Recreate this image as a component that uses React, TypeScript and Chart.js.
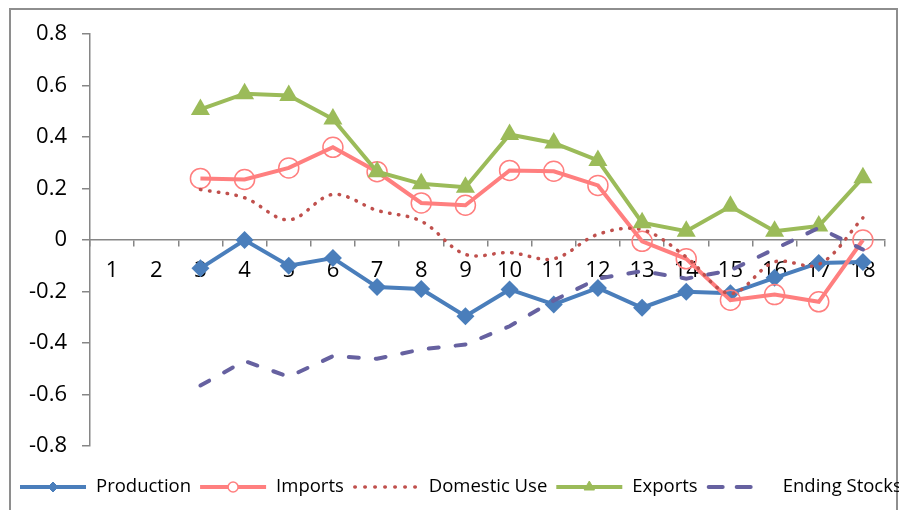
import React, { useEffect, useRef } from "react";
import { Chart, registerables } from "chart.js";
import { drawPoint } from "chart.js/helpers";

Chart.register(...registerables);

// Year-over-year change, categories 1..18
const categories = ["1", "2", "3", "4", "5", "6", "7", "8", "9", "10", "11", "12", "13", "14", "15", "16", "17", "18"];

const production = [null, null, -0.11, 0.0, -0.1, -0.07, -0.183, -0.19, -0.296, -0.192, -0.25, -0.186, -0.263, -0.201, -0.207, -0.147, -0.089, -0.085];
const imports = [null, null, 0.239, 0.235, 0.28, 0.36, 0.265, 0.144, 0.135, 0.27, 0.267, 0.212, -0.005, -0.073, -0.234, -0.212, -0.24, 0.0];
const domesticUse = [null, null, 0.196, 0.164, 0.078, 0.177, 0.115, 0.073, -0.056, -0.049, -0.073, 0.022, 0.04, -0.066, -0.208, -0.085, -0.095, 0.086];
const exportsSeries = [null, null, 0.507, 0.568, 0.561, 0.47, 0.265, 0.218, 0.205, 0.41, 0.377, 0.309, 0.067, 0.034, 0.131, 0.034, 0.054, 0.242];
const endingStocks = [null, null, -0.565, -0.47, -0.531, -0.451, -0.461, -0.425, -0.406, -0.335, -0.235, -0.15, -0.121, -0.15, -0.118, -0.035, 0.047, -0.037];

const yTicks = { min: -0.8, max: 0.8, step: 0.2 };

const FONT = '"Open Sans", "DejaVu Sans", sans-serif';
const AXIS_GRAY = "#868686";
const TICK_SIZE = 22;
const LEGEND_SIZE = 18.5;

type LegendStyle = {
  dash: number[];
  cap: CanvasLineCap;
  width: number;
  marker: string | false;
  markerRadius: number;
  markerFill: string;
};

const legendStyles: LegendStyle[] = [
  { dash: [], cap: "butt", width: 4, marker: "rectRot", markerRadius: 5, markerFill: "#4A7EBB" },
  { dash: [], cap: "butt", width: 4, marker: "circle", markerRadius: 5, markerFill: "#FFFFFF" },
  { dash: [0.5, 9.5], cap: "round", width: 3.5, marker: false, markerRadius: 0, markerFill: "" },
  { dash: [], cap: "butt", width: 4, marker: "triangle", markerRadius: 6, markerFill: "#9BBB59" },
  { dash: [14, 14, 14, 60], cap: "round", width: 4, marker: false, markerRadius: 0, markerFill: "" },
];

// Outer frame around the chart object
const framePlugin = {
  id: "frame",
  beforeDraw(chart: any) {
    const ctx = chart.ctx;
    ctx.save();
    ctx.fillStyle = "#ffffff";
    ctx.fillRect(0, 0, chart.width, chart.height);
    ctx.strokeStyle = "#8e8e8e";
    ctx.lineWidth = 2;
    ctx.strokeRect(10, 9, chart.width - 12, chart.height + 20);
    ctx.restore();
  },
};

// Legend row beneath the plot: line sample with marker, then label
const bottomLegendPlugin = {
  id: "bottomLegend",
  afterDraw(chart: any) {
    const ctx = chart.ctx;
    const sample = 66;
    const gapAfterSample = 10;
    const gapAfterText = 9;
    const y = 487;
    ctx.save();
    ctx.font = `${LEGEND_SIZE}px ${FONT}`;
    const datasets = chart.data.datasets;
    const widths = datasets.map((d: any) => ctx.measureText(d.label).width);
    const total = widths.reduce((a: number, w: number) => a + w + sample + gapAfterSample, 0) + gapAfterText * (datasets.length - 1);
    let x = Math.max(20, (chart.width - total) / 2);
    datasets.forEach((d: any, i: number) => {
      const st = legendStyles[i];
      ctx.save();
      ctx.strokeStyle = d.borderColor;
      ctx.lineWidth = st.width;
      ctx.lineCap = st.cap;
      ctx.setLineDash(st.dash);
      ctx.beginPath();
      ctx.moveTo(x + (st.cap === "round" ? 2 : 0), y);
      ctx.lineTo(x + sample, y);
      ctx.stroke();
      ctx.restore();
      if (st.marker) {
        ctx.save();
        ctx.fillStyle = st.markerFill;
        ctx.strokeStyle = d.pointBorderColor || d.borderColor;
        ctx.lineWidth = st.marker === "circle" ? 1.5 : 0;
        drawPoint(ctx, { pointStyle: st.marker, radius: st.markerRadius, borderWidth: ctx.lineWidth, rotation: 0 } as any, x + sample / 2, y);
        ctx.restore();
      }
      ctx.fillStyle = "#000000";
      ctx.textBaseline = "middle";
      ctx.textAlign = "left";
      ctx.fillText(d.label, x + sample + gapAfterSample, y);
      x += sample + gapAfterSample + widths[i] + gapAfterText;
    });
    ctx.restore();
  },
};

export default function App() {
  const canvasRef = useRef<HTMLCanvasElement | null>(null);

  useEffect(() => {
    let chart: Chart | null = null;
    let cancelled = false;

    const build = () => {
      if (cancelled || !canvasRef.current) return;
      chart = new Chart(canvasRef.current, {
        type: "line",
        data: {
          labels: categories,
          datasets: [
            {
              label: "Production",
              data: production,
              borderColor: "#4A7EBB",
              backgroundColor: "#4A7EBB",
              borderWidth: 4,
              pointStyle: "rectRot",
              pointRadius: 9,
              pointBorderWidth: 0,
              pointBackgroundColor: "#4A7EBB",
              order: 5,
            },
            {
              label: "Imports",
              data: imports,
              borderColor: "#FF7F7F",
              backgroundColor: "#FF7F7F",
              borderWidth: 4,
              pointStyle: "circle",
              pointRadius: 10,
              pointBorderWidth: 1.5,
              pointBorderColor: "#FF7F7F",
              pointBackgroundColor: "rgba(255,255,255,0)",
              order: 4,
            },
            {
              label: "Domestic Use",
              data: domesticUse,
              borderColor: "#C0504D",
              backgroundColor: "#C0504D",
              borderWidth: 3.5,
              borderDash: [0.5, 8.5],
              borderCapStyle: "round",
              tension: 0.35,
              pointRadius: 0,
              order: 3,
            },
            {
              label: "Exports",
              data: exportsSeries,
              borderColor: "#9BBB59",
              backgroundColor: "#9BBB59",
              borderWidth: 4,
              pointStyle: "triangle",
              pointRadius: 11,
              pointBorderWidth: 0,
              pointBackgroundColor: "#9BBB59",
              order: 2,
            },
            {
              label: "Ending Stocks",
              data: endingStocks,
              borderColor: "#6661A0",
              backgroundColor: "#6661A0",
              borderWidth: 4,
              borderDash: [10, 17],
              borderCapStyle: "round",
              pointRadius: 0,
              order: 1,
            },
          ],
        },
        options: {
          responsive: false,
          animation: false,
          spanGaps: false,
          layout: { padding: { left: 0, top: 34, right: 14, bottom: 64 } },
          plugins: {
            legend: { display: false },
            tooltip: { enabled: false },
            title: { display: false },
          },
          scales: {
            x: {
              type: "category",
              position: { y: 0 } as any,
              offset: true,
              grid: {
                offset: true,
                drawOnChartArea: false,
                drawTicks: true,
                tickLength: 6,
                color: AXIS_GRAY,
                lineWidth: 1.5,
              },
              border: { display: true, color: AXIS_GRAY, width: 1.5 },
              ticks: {
                color: "#000000",
                font: { family: FONT, size: TICK_SIZE },
                padding: 12,
                maxRotation: 0,
                autoSkip: false,
              },
            },
            y: {
              type: "linear",
              position: "left",
              min: yTicks.min,
              max: yTicks.max,
              afterFit(scale: any) {
                scale.width = 90;
              },
              grid: {
                drawOnChartArea: false,
                drawTicks: true,
                tickLength: 8,
                color: AXIS_GRAY,
                lineWidth: 1.5,
              },
              border: { display: true, color: AXIS_GRAY, width: 1.5 },
              ticks: {
                stepSize: yTicks.step,
                color: "#000000",
                font: { family: FONT, size: TICK_SIZE },
                padding: 15,
                callback: (v: any) => {
                  const n = Math.round(Number(v) * 10) / 10;
                  return n === 0 ? "0" : String(n);
                },
              },
            },
          },
        },
        plugins: [framePlugin, bottomLegendPlugin],
      });
    };

    const fontsReady = (document as any).fonts
      ? Promise.all([
          (document as any).fonts.load(`${TICK_SIZE}px "Open Sans"`),
          (document as any).fonts.load(`${LEGEND_SIZE}px "Open Sans"`),
        ]).catch(() => null)
      : Promise.resolve(null);
    fontsReady.then(build);

    return () => {
      cancelled = true;
      if (chart) chart.destroy();
    };
  }, []);

  return (
    <div style={{ position: "absolute", left: 0, top: 0, width: 899, height: 510, background: "#fff" }}>
      <canvas ref={canvasRef} width={899} height={510} style={{ display: "block", width: 899, height: 510 }} />
    </div>
  );
}
